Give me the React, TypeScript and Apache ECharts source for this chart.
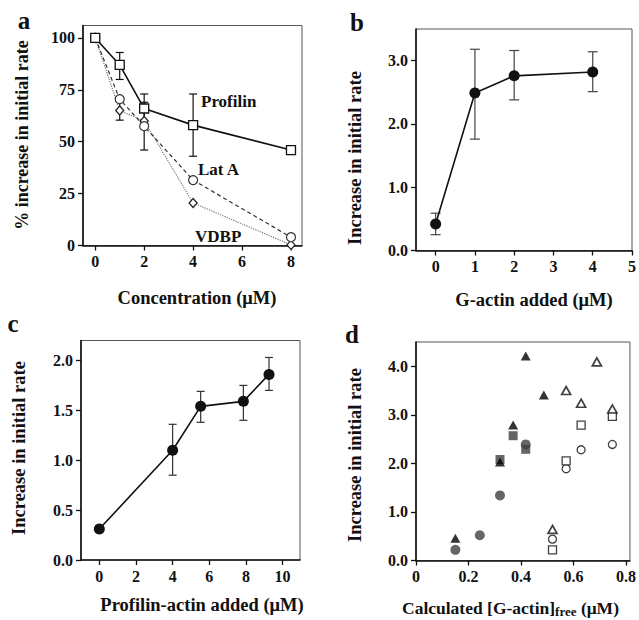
import React, { useEffect, useRef } from 'react';
import * as echarts from 'echarts';

const FONT = '"Liberation Serif", "Times New Roman", serif';

// ---- Panel a ----
const aConc = [0, 1, 2, 4, 8];
const aProfilin = [100, 87, 66, 58, 46];
const aLatA = [100, 70.5, 57.5, 31.5, 4];
const aVDBP = [100, 65, 60, 20.5, 0.3];
const aProfilinErr = [[1, 80, 93], [2, 59, 73], [4, 43, 73]];
const aLatAErr = [[2, 46, 69]];
const aVDBPErr = [[1, 60.4, 69.6]];
const aXTicks = [0, 2, 4, 6, 8];
const aYTicks = [0, 25, 50, 75, 100];

// ---- Panel b ----
const bActin = [0, 1, 2, 4];
const bRate = [0.42, 2.49, 2.76, 2.82];
const bLow = [0.25, 1.76, 2.38, 2.51];
const bHigh = [0.59, 3.18, 3.16, 3.14];
const bXTicks = [0, 1, 2, 3, 4, 5];
const bYTicks = [0, 1, 2, 3];

// ---- Panel c ----
const cProfActin = [0, 4, 5.53, 7.86, 9.26];
const cRate = [0.31, 1.1, 1.54, 1.59, 1.86];
const cLow = [null, 0.85, 1.38, 1.4, 1.7];
const cHigh = [null, 1.36, 1.69, 1.75, 2.03];
const cXTicks = [0, 2, 4, 6, 8, 10];
const cYTicks = [0, 0.5, 1, 1.5, 2];

// ---- Panel d ----
const dFilledTriX = [0.15, 0.32, 0.37, 0.418, 0.487];
const dFilledTriY = [0.46, 2.03, 2.79, 4.21, 3.41];
const dFilledSqX = [0.32, 0.37, 0.418];
const dFilledSqY = [2.08, 2.57, 2.29];
const dFilledCircX = [0.15, 0.243, 0.32, 0.418];
const dFilledCircY = [0.22, 0.52, 1.34, 2.39];
const dOpenTriX = [0.52, 0.572, 0.629, 0.689, 0.748];
const dOpenTriY = [0.64, 3.5, 3.24, 4.09, 3.12];
const dOpenSqX = [0.52, 0.572, 0.629, 0.748];
const dOpenSqY = [0.22, 2.05, 2.79, 2.97];
const dOpenCircX = [0.52, 0.572, 0.629, 0.748];
const dOpenCircY = [0.44, 1.89, 2.28, 2.39];
const dXTicks = [0, 0.2, 0.4, 0.6, 0.8];
const dYTicks = [0, 1, 2, 3, 4];

const zip = (xs: number[], ys: number[]) => xs.map((x, i) => [x, ys[i]]);
const zipErr = (xs: number[], lo: (number | null)[], hi: (number | null)[]) =>
  xs.map((x, i) => [x, lo[i], hi[i]]).filter((d) => d[1] != null);

const INK = '#111';
const TICK_FS = 16;
const TITLE_FS = 18.5;

function axis(gridIndex: number, min: number, max: number, ticks: number[], fmt: (v: number) => string) {
  return {
    type: 'value', gridIndex, min, max,
    axisLine: { show: true, onZero: false, lineStyle: { color: INK, width: 1.6 } },
    axisTick: { show: true, inside: false, length: 5, customValues: ticks, lineStyle: { color: INK, width: 1.3 } },
    axisLabel: { customValues: ticks, formatter: fmt, fontFamily: FONT, fontWeight: 'bold', fontSize: TICK_FS, color: INK, margin: 8 },
    splitLine: { show: false },
  };
}

function errSeries(idx: number, data: any[], color: string, cap: number) {
  return {
    type: 'custom', xAxisIndex: idx, yAxisIndex: idx, data, z: 1, silent: true,
    encode: { x: 0, y: [1, 2] },
    renderItem: (_p: any, api: any) => {
      const x = api.value(0);
      const top = api.coord([x, api.value(2)]);
      const bot = api.coord([x, api.value(1)]);
      const st = { stroke: color, lineWidth: 1.2 };
      return {
        type: 'group',
        children: [
          { type: 'line', shape: { x1: top[0], y1: top[1], x2: bot[0], y2: bot[1] }, style: st },
          { type: 'line', shape: { x1: top[0] - cap, y1: top[1], x2: top[0] + cap, y2: top[1] }, style: st },
          { type: 'line', shape: { x1: bot[0] - cap, y1: bot[1], x2: bot[0] + cap, y2: bot[1] }, style: st },
        ],
      };
    },
  };
}

function txt(text: string, x: number, y: number, size: number, opts: any = {}) {
  return {
    type: 'text', x, y, rotation: opts.rotation || 0, z: 10,
    style: {
      text, fill: INK, fontFamily: FONT, fontWeight: 'bold', fontSize: size,
      textAlign: opts.align || 'center', textVerticalAlign: 'middle',
      align: opts.align || 'center', verticalAlign: 'middle',
      rich: opts.rich,
    },
  };
}

const int = (v: number) => String(v);
const one = (v: number) => v.toFixed(1);

export default function App() {
  const ref = useRef<HTMLDivElement>(null);
  useEffect(() => {
    if (!ref.current) return;
    const chart = echarts.init(ref.current, undefined, { renderer: 'svg' });
    const gridBase = { show: true, borderColor: '#555', borderWidth: 1, backgroundColor: 'transparent', containLabel: false };
    const option: any = {
      animation: false,
      backgroundColor: '#fff',
      grid: [
        { ...gridBase, left: 83, top: 25.5, width: 219, height: 220 },
        { ...gridBase, left: 416, top: 29, width: 220, height: 221.5 },
        { ...gridBase, left: 81, top: 340.5, width: 219, height: 219.5 },
        { ...gridBase, left: 416, top: 342, width: 216, height: 218.5 },
      ],
      xAxis: [
        axis(0, -0.5, 8.45, aXTicks, int),
        axis(1, -0.5, 5, bXTicks, int),
        axis(2, -1, 10.95, cXTicks, int),
        axis(3, 0, 0.815, dXTicks, (v) => (v === 0 ? '0' : one(v))),
      ],
      yAxis: [
        axis(0, 0, 106, aYTicks, int),
        axis(1, 0, 3.5, bYTicks, one),
        axis(2, 0, 2.2, cYTicks, one),
        axis(3, 0, 4.5, dYTicks, one),
      ],
      series: [
        // panel a
        errSeries(0, aProfilinErr, INK, 4),
        errSeries(0, aLatAErr, INK, 4),
        errSeries(0, aVDBPErr, INK, 4),
        {
          type: 'line', name: 'VDBP', xAxisIndex: 0, yAxisIndex: 0, data: zip(aConc, aVDBP), z: 2,
          symbol: 'diamond', symbolSize: [8, 9],
          lineStyle: { color: '#777', width: 1.2, type: 'dotted' },
          itemStyle: { color: '#fff', borderColor: '#222', borderWidth: 1.3 },
        },
        {
          type: 'line', name: 'Lat A', xAxisIndex: 0, yAxisIndex: 0, data: zip(aConc, aLatA), z: 3,
          symbol: 'circle', symbolSize: 9,
          lineStyle: { color: '#333', width: 1.2, type: [4, 3] },
          itemStyle: { color: '#fff', borderColor: '#333', borderWidth: 1.2 },
        },
        {
          type: 'line', name: 'Profilin', xAxisIndex: 0, yAxisIndex: 0, data: zip(aConc, aProfilin), z: 4,
          symbol: 'rect', symbolSize: 9,
          lineStyle: { color: INK, width: 1.6 },
          itemStyle: { color: '#fff', borderColor: INK, borderWidth: 1.3 },
        },
        // panel b
        errSeries(1, zipErr(bActin, bLow, bHigh), '#444', 5),
        {
          type: 'line', xAxisIndex: 1, yAxisIndex: 1, data: zip(bActin, bRate), z: 2,
          symbol: 'circle', symbolSize: 11,
          lineStyle: { color: INK, width: 1.6 },
          itemStyle: { color: INK },
        },
        // panel c
        errSeries(2, zipErr(cProfActin, cLow, cHigh), '#333', 4),
        {
          type: 'line', xAxisIndex: 2, yAxisIndex: 2, data: zip(cProfActin, cRate), z: 2,
          symbol: 'circle', symbolSize: 11,
          lineStyle: { color: INK, width: 1.6 },
          itemStyle: { color: INK },
        },
        // panel d
        {
          type: 'scatter', xAxisIndex: 3, yAxisIndex: 3, data: zip(dFilledCircX, dFilledCircY), z: 2,
          symbol: 'circle', symbolSize: 10, itemStyle: { color: '#404040' },
        },
        {
          type: 'scatter', xAxisIndex: 3, yAxisIndex: 3, data: zip(dFilledSqX, dFilledSqY), z: 3,
          symbol: 'rect', symbolSize: 9, itemStyle: { color: '#404040' },
        },
        {
          type: 'scatter', xAxisIndex: 3, yAxisIndex: 3, data: zip(dFilledTriX, dFilledTriY), z: 4,
          symbol: 'triangle', symbolSize: [10, 9], itemStyle: { color: '#000' },
        },
        {
          type: 'scatter', xAxisIndex: 3, yAxisIndex: 3, data: zip(dOpenCircX, dOpenCircY), z: 2,
          symbol: 'circle', symbolSize: 8, itemStyle: { color: '#fff', borderColor: INK, borderWidth: 1.3 },
        },
        {
          type: 'scatter', xAxisIndex: 3, yAxisIndex: 3, data: zip(dOpenSqX, dOpenSqY), z: 3,
          symbol: 'rect', symbolSize: 8, itemStyle: { color: '#fff', borderColor: INK, borderWidth: 1.3 },
        },
        {
          type: 'scatter', xAxisIndex: 3, yAxisIndex: 3, data: zip(dOpenTriX, dOpenTriY), z: 4,
          symbol: 'triangle', symbolSize: [9, 8], itemStyle: { color: '#fff', borderColor: INK, borderWidth: 1.7 },
        },
      ],
      graphic: [
        txt('a', 24, 20, 25),
        txt('b', 357, 22, 25),
        txt('c', 13, 323, 25),
        txt('d', 352, 334, 25),
        txt('Profilin', 201, 101, 17, { align: 'left' }),
        txt('Lat A', 198, 169, 17, { align: 'left' }),
        txt('VDBP', 195, 236, 17, { align: 'left' }),
        txt('% increase in initial rate', 22, 135, 18, { rotation: Math.PI / 2 }),
        txt('Concentration (μM)', 197, 298, TITLE_FS),
        txt('Increase in initial rate', 355, 158, TITLE_FS, { rotation: Math.PI / 2 }),
        txt('G-actin added (μM)', 534, 300, TITLE_FS),
        txt('Increase in initial rate', 19, 448, TITLE_FS, { rotation: Math.PI / 2 }),
        txt('Profilin-actin added (μM)', 202, 605, TITLE_FS),
        txt('Increase in initial rate', 355, 455, TITLE_FS, { rotation: Math.PI / 2 }),
        txt('{n|Calculated [G-actin]}{s|free}{n| (μM)}', 402, 608, 17.5, {
          align: 'left',
          rich: {
            n: { fontFamily: FONT, fontWeight: 'bold', fontSize: 17.5, fill: INK, color: INK },
            s: { fontFamily: FONT, fontWeight: 'bold', fontSize: 13, fill: INK, color: INK, padding: [6, 0, 0, 0] },
          },
        }),
      ],
    };
    chart.setOption(option);
    return () => chart.dispose();
  }, []);
  return <div ref={ref} style={{ position: 'absolute', left: 0, top: 0, width: 639, height: 620 }} />;
}
